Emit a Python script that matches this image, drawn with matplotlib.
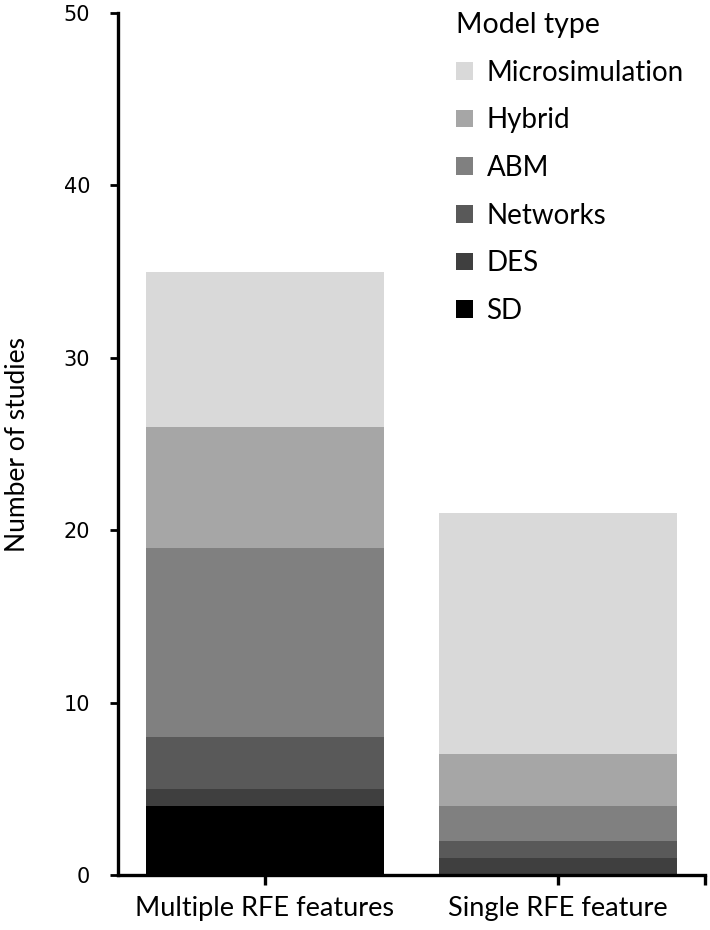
import numpy as np
import matplotlib
matplotlib.use('Agg')
from matplotlib import pyplot as plt

plt.rcParams['font.family'] = ['Lato', 'DejaVu Sans']

groups = ['Multiple RFE features', 'Single RFE feature']
# stack order bottom -> top
model_types = ['SD', 'DES', 'Networks', 'ABM', 'Hybrid', 'Microsimulation']
counts = {
    'SD': [4, 0],
    'DES': [1, 1],
    'Networks': [3, 1],
    'ABM': [11, 2],
    'Hybrid': [7, 3],
    'Microsimulation': [9, 14],
}
colours = ['#000000', '#3f3f3f', '#595959', '#808080', '#a6a6a6', '#d9d9d9']

fig = plt.figure(figsize=(7.1, 9.3), dpi=100)
ax = fig.add_axes([0.166, 0.059, 0.827, 0.927])

x = np.arange(len(groups))
bottom = np.zeros(len(groups))
handles = []
for name, col in zip(model_types, colours):
    vals = np.array(counts[name], dtype=float)
    h = ax.bar(x, vals, 0.81, bottom=bottom, color=col, label=name)
    handles.append(h)
    bottom += vals

ax.set_xlim(-0.5, 1.5)
ax.set_ylim(0, 50)
ax.set_yticks(range(0, 51, 10))
ax.set_xticks(list(x) + [1.5])
ax.set_xticklabels(groups + [''], fontsize=19.5)
ax.tick_params(axis='x', direction='out', length=7, width=2.4, pad=8)
ax.tick_params(axis='y', direction='out', length=6, width=2, labelsize=15, pad=14)
for lab in ax.get_yticklabels():
    lab.set_family('DejaVu Sans')
ax.set_ylabel('Number of studies', fontsize=19, labelpad=24)

for s in ['top', 'right']:
    ax.spines[s].set_visible(False)
for s in ['left', 'bottom']:
    ax.spines[s].set_linewidth(2.4)

leg = ax.legend(handles[::-1], model_types[::-1], title='Model type', loc='upper left',
                frameon=False, fontsize=20, title_fontsize=20.5, handlelength=0.6,
                handleheight=0.6, handletextpad=0.5, labelspacing=0.78,
                borderaxespad=0, bbox_to_anchor=(0.557, 1.014))
leg._legend_box.align = 'left'

fig.savefig('out.png', dpi=100)
